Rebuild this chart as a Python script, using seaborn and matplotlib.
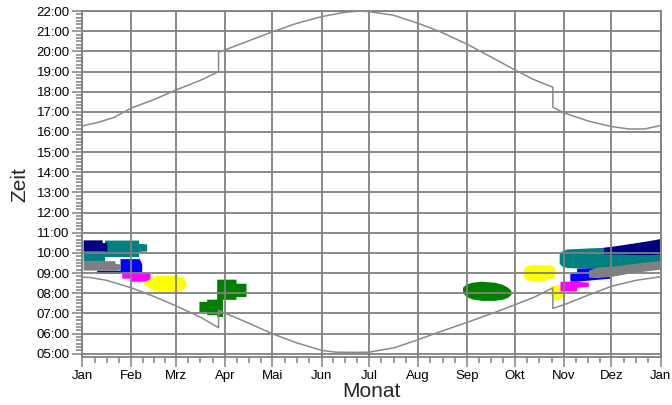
import matplotlib

matplotlib.use("Agg")
import matplotlib.pyplot as plt
import numpy as np
import pandas as pd
import seaborn as sns

MONTHS = ["Jan", "Feb", "Mrz", "Apr", "Mai", "Jun", "Jul", "Aug", "Sep", "Okt", "Nov", "Dez", "Jan"]
MONTH_START = [0, 31, 59, 90, 120, 151, 181, 212, 243, 273, 304, 334, 365]
HOURS = list(range(5, 23))

# Sonnenaufgang (Stunden), mit Sprung bei Sommerzeit-Umstellung
RISE_DAY = [0, 5, 15, 31, 45, 59, 75, 86, 86, 90, 105, 120, 135, 151, 160, 172, 181,
            197, 212, 226, 243, 262, 273, 285, 297, 297, 304, 319, 334, 350, 365]
RISE_TIME = [8.80, 8.78, 8.65, 8.27, 7.85, 7.38, 6.80, 6.29, 7.16, 7.02, 6.52, 5.99, 5.55,
             5.17, 5.08, 5.07, 5.08, 5.30, 5.70, 6.10, 6.56, 7.10, 7.43, 7.80, 8.27, 7.25,
             7.43, 7.90, 8.35, 8.65, 8.82]

# Sonnenuntergang (Stunden)
SET_DAY = [0, 10, 20, 31, 45, 59, 75, 86, 86, 90, 105, 120, 135, 151, 165, 175, 181,
           196, 212, 226, 243, 258, 273, 285, 297, 297, 304, 319, 334, 345, 355, 365]
SET_TIME = [16.30, 16.48, 16.72, 17.19, 17.60, 18.08, 18.58, 18.99, 19.95, 20.07, 20.52,
            20.97, 21.38, 21.72, 21.93, 22.00, 21.97, 21.80, 21.39, 20.97, 20.35, 19.72,
            19.08, 18.60, 18.22, 17.23, 16.95, 16.55, 16.27, 16.15, 16.15, 16.32]

# Schattenflaechen: Tag, untere Zeit, obere Zeit
TEAL_L_DAY = [0.5, 14, 14.01, 35.5, 35.51, 40.6]
TEAL_L_LO = [9.60, 9.60, 9.82, 9.82, 10.08, 10.10]
TEAL_L_HI = [10.10, 10.10, 10.64, 10.64, 10.48, 10.45]

BLUE_L_DAY = [9, 23.8, 23.81, 36, 37.5]
BLUE_L_LO = [9.00, 9.00, 9.00, 9.00, 9.08]
BLUE_L_HI = [9.15, 9.15, 9.72, 9.72, 9.45]

GRAY_L_DAY = [0.5, 20.5, 20.51, 24]
GRAY_L_LO = [9.15, 9.15, 9.15, 9.20]
GRAY_L_HI = [9.62, 9.62, 9.50, 9.45]

NAVY_L_DAY = [0.5, 12.5, 12.51, 15.5]
NAVY_L_LO = [10.10, 10.10, 10.10, 10.10]
NAVY_L_HI = [10.65, 10.65, 10.52, 10.52]

MAG_L_DAY = [24.9, 30, 30.01, 42.7]
MAG_L_LO = [8.75, 8.75, 8.60, 8.60]
MAG_L_HI = [9.00, 9.00, 9.08, 9.00]

YEL_L_DAY = [38.5, 42, 46, 60, 64, 65.5]
YEL_L_LO = [8.45, 8.30, 8.10, 8.10, 8.25, 8.35]
YEL_L_HI = [8.55, 8.70, 8.90, 8.90, 8.75, 8.60]

GRN_L_DAY = [73.6, 78.5, 78.51, 84.8, 84.81, 88.5, 88.51, 97, 97.01, 103.3]
GRN_L_LO = [7.10, 7.10, 6.94, 6.94, 6.85, 6.85, 7.70, 7.70, 7.84, 7.84]
GRN_L_HI = [7.60, 7.60, 7.71, 7.71, 8.70, 8.70, 8.70, 8.70, 8.50, 8.50]

GRN_R_DAY = [240, 242, 246, 252, 260, 265, 268.5, 270.5]
GRN_R_LO = [8.05, 7.85, 7.72, 7.65, 7.65, 7.70, 7.80, 7.95]
GRN_R_HI = [8.30, 8.45, 8.55, 8.60, 8.55, 8.45, 8.30, 8.15]

YEL_R_DAY = [278.3, 280, 283, 290, 296, 298.3]
YEL_R_LO = [8.85, 8.70, 8.62, 8.62, 8.75, 8.85]
YEL_R_HI = [9.20, 9.35, 9.42, 9.42, 9.40, 9.30]

YEL_S_DAY = [295.2, 298, 300, 302.5, 304.5]
YEL_S_LO = [7.95, 7.68, 7.68, 7.80, 8.00]
YEL_S_HI = [8.35, 8.42, 8.42, 8.42, 8.30]

TEAL_R_DAY = [301, 302.5, 306, 320, 335, 345, 365]
TEAL_R_LO = [9.50, 9.35, 9.28, 9.23, 9.30, 9.40, 9.60]
TEAL_R_HI = [9.95, 10.10, 10.20, 10.25, 10.30, 10.10, 10.05]

NAVY_R_DAY = [329, 340, 350, 358, 365]
NAVY_R_LO = [9.95, 9.95, 9.92, 9.92, 9.95]
NAVY_R_HI = [10.28, 10.40, 10.52, 10.62, 10.72]

BLUE_R_DAY = [307.7, 312, 312.01, 333]
BLUE_R_LO = [8.60, 8.60, 8.60, 8.75]
BLUE_R_HI = [9.00, 9.00, 9.25, 9.25]

MAG_R_DAY = [301.5, 312, 312.01, 319.4]
MAG_R_LO = [8.12, 8.12, 8.30, 8.35]
MAG_R_HI = [8.60, 8.60, 8.60, 8.55]

GRAY_R_DAY = [319.5, 325, 335, 345, 355, 365]
GRAY_R_LO = [8.80, 8.78, 8.85, 9.00, 9.10, 9.20]
GRAY_R_HI = [9.15, 9.30, 9.35, 9.45, 9.55, 9.62]

GRID = "#808080"

sns.set_style("white")
plt.rcParams["font.family"] = ["Liberation Sans", "DejaVu Sans"]

fig = plt.figure(figsize=(6.72, 4.05), dpi=100)
ax = fig.add_axes([0.1225, 0.1175, 0.8605, 0.8553])

blobs = [
    ("#008080", TEAL_L_DAY, TEAL_L_LO, TEAL_L_HI),
    ("#0000ff", BLUE_L_DAY, BLUE_L_LO, BLUE_L_HI),
    ("#808080", GRAY_L_DAY, GRAY_L_LO, GRAY_L_HI),
    ("#000080", NAVY_L_DAY, NAVY_L_LO, NAVY_L_HI),
    ("#ff00ff", MAG_L_DAY, MAG_L_LO, MAG_L_HI),
    ("#ffff00", YEL_L_DAY, YEL_L_LO, YEL_L_HI),
    ("#008000", GRN_L_DAY, GRN_L_LO, GRN_L_HI),
    ("#008000", GRN_R_DAY, GRN_R_LO, GRN_R_HI),
    ("#ffff00", YEL_R_DAY, YEL_R_LO, YEL_R_HI),
    ("#ffff00", YEL_S_DAY, YEL_S_LO, YEL_S_HI),
    ("#008080", TEAL_R_DAY, TEAL_R_LO, TEAL_R_HI),
    ("#000080", NAVY_R_DAY, NAVY_R_LO, NAVY_R_HI),
    ("#0000ff", BLUE_R_DAY, BLUE_R_LO, BLUE_R_HI),
    ("#ff00ff", MAG_R_DAY, MAG_R_LO, MAG_R_HI),
    ("#808080", GRAY_R_DAY, GRAY_R_LO, GRAY_R_HI),
]
for color, days, lo, hi in blobs:
    ax.fill_between(days, lo, hi, color=color, linewidth=0, zorder=1)

rise = pd.DataFrame({"tag": RISE_DAY, "zeit": RISE_TIME})
sunset = pd.DataFrame({"tag": SET_DAY, "zeit": SET_TIME})
for df in (rise, sunset):
    sns.lineplot(data=df, x="tag", y="zeit", estimator=None, sort=False,
                 color="#8a8a8a", linewidth=1.1, ax=ax, zorder=3)

# Achsen
minor_x = []
for a, b in zip(MONTH_START[:-1], MONTH_START[1:]):
    minor_x += [a + (b - a) * k / 4 for k in (1, 2, 3)]
ax.set_xticks(MONTH_START)
ax.set_xticklabels(MONTHS)
ax.set_xticks(minor_x, minor=True)
ax.set_yticks(HOURS)
ax.set_yticklabels([f"{h:02d}:00" for h in HOURS])
ax.set_yticks([h + m / 6 for h in HOURS[:-1] for m in range(1, 6)], minor=True)
ax.set_xlim(0, 365)
ax.set_ylim(4.82, 22)

ax.set_axisbelow(False)
ax.grid(True, which="major", color=GRID, linewidth=1.3)
for sp in ax.spines.values():
    sp.set_visible(True)
    sp.set_color(GRID)
    sp.set_linewidth(1.3)
ax.tick_params(which="both", direction="out", color=GRID, width=1.1,
               labelsize=9.5, labelcolor="black", bottom=True, left=True)
ax.tick_params(which="major", length=7, pad=2)
ax.tick_params(which="minor", length=4)

ax.set_xlabel("Monat", fontsize=15, labelpad=0)
ax.set_ylabel("Zeit", fontsize=15, labelpad=5)

fig.savefig("out.png", dpi=100)
